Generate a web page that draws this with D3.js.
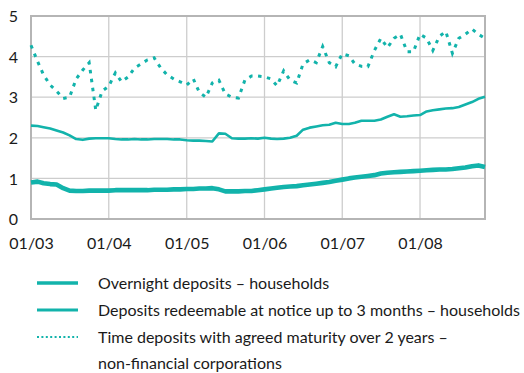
<!DOCTYPE html>
<html>
<head>
<meta charset="utf-8">
<script src="https://cdn.jsdelivr.net/npm/d3@7"></script>
<style>
  body { margin: 0; background: #fff; }
  text { font-family: Lato, "Open Sans", sans-serif; fill: #1a1a1a; }
</style>
</head>
<body>
<svg id="chart" width="524" height="373"></svg>
<script>
// Monthly observations, January 2003 to November 2008
const firstMonth = new Date(2003, 0, 1);
const xTickLabels = ["01/03", "01/04", "01/05", "01/06", "01/07", "01/08"];
const yTickValues = [0, 1, 2, 3, 4, 5];

const overnight = [
  0.90, 0.92, 0.88, 0.86, 0.85, 0.76, 0.70, 0.69, 0.69, 0.70, 0.70, 0.70,
  0.70, 0.71, 0.71, 0.71, 0.71, 0.71, 0.71, 0.72, 0.72, 0.72, 0.73, 0.73,
  0.74, 0.74, 0.75, 0.75, 0.76, 0.73, 0.68, 0.68, 0.68, 0.69, 0.69, 0.71,
  0.73, 0.75, 0.77, 0.79, 0.80, 0.81, 0.83, 0.85, 0.87, 0.89, 0.91, 0.94,
  0.97, 1.00, 1.02, 1.04, 1.06, 1.08, 1.12, 1.14, 1.15, 1.16, 1.17, 1.18,
  1.19, 1.20, 1.21, 1.22, 1.22, 1.23, 1.25, 1.27, 1.30, 1.32, 1.28
];

const redeemable = [
  2.30, 2.29, 2.26, 2.23, 2.18, 2.13, 2.06, 1.97, 1.95, 1.98, 1.99, 1.99,
  1.99, 1.97, 1.96, 1.96, 1.97, 1.96, 1.96, 1.97, 1.97, 1.97, 1.96, 1.96,
  1.94, 1.93, 1.93, 1.92, 1.91, 2.11, 2.10, 1.99, 1.98, 1.98, 1.99, 1.98,
  2.00, 1.98, 1.97, 1.98, 2.00, 2.05, 2.20, 2.25, 2.28, 2.31, 2.32, 2.37,
  2.34, 2.34, 2.37, 2.42, 2.42, 2.42, 2.45, 2.52, 2.58, 2.52, 2.53, 2.55,
  2.56, 2.65, 2.68, 2.70, 2.72, 2.73, 2.76, 2.82, 2.88, 2.96, 3.01
];

const timeDeposits = [
  4.28, 3.88, 3.55, 3.30, 3.15, 2.97, 3.00, 3.45, 3.67, 3.85, 2.68, 3.15,
  3.27, 3.60, 3.38, 3.50, 3.72, 3.82, 3.92, 3.97, 3.72, 3.55, 3.45, 3.38,
  3.30, 3.45, 3.12, 3.00, 3.35, 3.42, 3.08, 3.00, 2.98, 3.42, 3.52, 3.52,
  3.50, 3.45, 3.28, 3.65, 3.42, 3.35, 3.82, 3.92, 3.85, 4.25, 3.85, 3.75,
  4.07, 4.02, 3.82, 3.76, 3.75, 4.15, 4.45, 4.22, 4.45, 4.55, 4.12, 4.12,
  4.55, 4.45, 4.15, 4.50, 4.62, 4.08, 4.45, 4.55, 4.68, 4.55, 4.45
];

const seriesLabels = [
  ["Overnight deposits \u2013 households"],
  ["Deposits redeemable at notice up to 3 months \u2013 households"],
  ["Time deposits with agreed maturity over 2 years \u2013", "non-financial corporations"]
];

const teal = "#12b3ab";
const svg = d3.select("#chart");
const margin = { left: 31, top: 16, right: 485, bottom: 219 };

const monthDate = i => d3.timeMonth.offset(firstMonth, i);
const lastDate = monthDate(overnight.length - 1);

const x = d3.scaleTime().domain([firstMonth, lastDate]).range([margin.left, margin.right]);
const y = d3.scaleLinear().domain([0, 5]).range([margin.bottom, margin.top]);

const tickDates = xTickLabels.map(l => {
  const [m, yy] = l.split("/");
  return new Date(2000 + +yy, +m - 1, 1);
});

// grid
const grid = svg.append("g");
grid.selectAll("line.h").data(yTickValues.slice(1, -1)).join("line")
  .attr("x1", margin.left).attr("x2", margin.right)
  .attr("y1", d => y(d)).attr("y2", d => y(d))
  .attr("stroke", "#cdcdcd").attr("stroke-width", 1.3);
grid.selectAll("line.v").data(tickDates.slice(1)).join("line")
  .attr("x1", d => x(d)).attr("x2", d => x(d))
  .attr("y1", margin.top).attr("y2", margin.bottom)
  .attr("stroke", "#cdcdcd").attr("stroke-width", 1.3);

// frame
svg.append("rect")
  .attr("x", margin.left).attr("y", margin.top)
  .attr("width", margin.right - margin.left).attr("height", margin.bottom - margin.top)
  .attr("fill", "none").attr("stroke", "#b5b5b5").attr("stroke-width", 2);

// axis labels
const yAxis = d3.axisLeft(y).tickValues(yTickValues).tickFormat(d3.format("d"))
  .tickSize(0).tickPadding(13);
svg.append("g").attr("transform", `translate(${margin.left},0)`).call(yAxis)
  .call(g => g.select(".domain").remove())
  .selectAll("text").style("font-size", "16px").attr("dy", "0.35em").attr("fill", "#1a1a1a");

const xAxis = d3.axisBottom(x).tickValues(tickDates)
  .tickFormat((d, i) => xTickLabels[i]).tickSize(0).tickPadding(19);
svg.append("g").attr("transform", `translate(0,${margin.bottom})`).call(xAxis)
  .call(g => g.select(".domain").remove())
  .selectAll("text").style("font-size", "16px").attr("fill", "#1a1a1a");

// series
const line = d3.line().x((d, i) => x(monthDate(i))).y(d => y(d));

svg.append("path").datum(timeDeposits).attr("d", line)
  .attr("fill", "none").attr("stroke", teal).attr("stroke-width", 3)
  .attr("stroke-dasharray", "3.5,5.5");
svg.append("path").datum(redeemable).attr("d", line)
  .attr("fill", "none").attr("stroke", teal).attr("stroke-width", 2.6)
  .attr("stroke-linejoin", "round");
svg.append("path").datum(overnight).attr("d", line)
  .attr("fill", "none").attr("stroke", teal).attr("stroke-width", 4.6)
  .attr("stroke-linejoin", "round");

// legend
const legendStyles = [
  { width: 3.6, dash: null },
  { width: 3, dash: null },
  { width: 2, dash: "2,2.4" }
];
const legendRows = [283, 310, 337];
const legend = svg.append("g");
seriesLabels.forEach((lines, k) => {
  const yy = legendRows[k];
  legend.append("line")
    .attr("x1", 37).attr("x2", 78).attr("y1", yy).attr("y2", yy)
    .attr("stroke", teal).attr("stroke-width", legendStyles[k].width)
    .attr("stroke-dasharray", legendStyles[k].dash);
  lines.forEach((t, j) => {
    legend.append("text").attr("x", 98).attr("y", yy + j * 26).attr("dy", "0.35em")
      .style("font-size", "16px").text(t);
  });
});
</script>
</body>
</html>
